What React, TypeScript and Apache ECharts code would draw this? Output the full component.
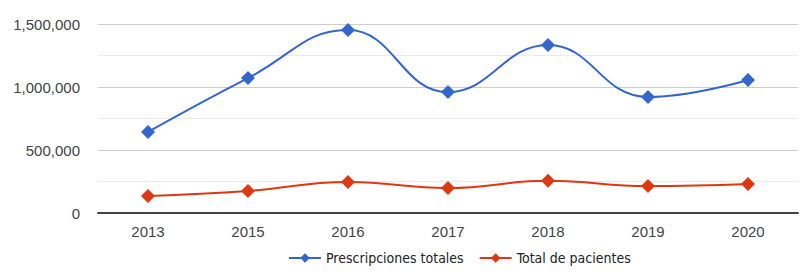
import React, { useEffect, useRef } from "react";
import * as echarts from "echarts";

const years = ["2013", "2015", "2016", "2017", "2018", "2019", "2020"];
const prescripciones = [643000, 1071000, 1452000, 960000, 1333000, 921000, 1056000];
const pacientes = [135000, 175000, 246000, 198000, 255000, 214000, 230000];
const seriesNames = ["Prescripciones totales", "Total de pacientes"];

export default function App() {
  const ref = useRef<HTMLDivElement>(null);
  useEffect(() => {
    if (!ref.current) return;
    const chart = echarts.init(ref.current, null, { renderer: "svg" });
    chart.setOption({
      animation: false,
      backgroundColor: "#ffffff",
      grid: { left: 98, right: 9, top: 24, bottom: 63 },
      legend: {
        top: 246,
        left: 283,
        itemWidth: 32,
        itemHeight: 12,
        itemGap: 15,
        textStyle: {
          fontFamily: "'DejaVu Sans Condensed', 'Liberation Sans Narrow', sans-serif",
          fontSize: 14,
          color: "#222",
        },
        data: seriesNames,
      },
      xAxis: {
        type: "category",
        data: years,
        boundaryGap: true,
        axisTick: { show: false },
        axisLine: { lineStyle: { color: "#444", width: 2 } },
        axisLabel: {
          color: "#444",
          fontSize: 15,
          fontFamily: "Arial, 'Liberation Sans', sans-serif",
          margin: 11,
        },
      },
      yAxis: {
        type: "value",
        min: 0,
        max: 1500000,
        interval: 250000,
        axisLine: { show: false },
        axisTick: { show: false },
        axisLabel: {
          color: "#444",
          fontSize: 15,
          fontFamily: "Arial, 'Liberation Sans', sans-serif",
          margin: 18,
          formatter: (v: number) =>
            v % 500000 === 0 ? v.toLocaleString("en-US") : "",
        },
        splitLine: { lineStyle: { color: ["#cccccc", "#ebebeb"], width: 1 } },
      },
      series: [
        {
          name: seriesNames[0],
          type: "line",
          data: prescripciones,
          smooth: 0.45,
          symbol: "diamond",
          symbolSize: 14,
          itemStyle: { color: "#3366cc" },
          lineStyle: { color: "#3366cc", width: 2 },
        },
        {
          name: seriesNames[1],
          type: "line",
          data: pacientes,
          smooth: 0.45,
          symbol: "diamond",
          symbolSize: 14,
          itemStyle: { color: "#dc3912" },
          lineStyle: { color: "#dc3912", width: 2 },
        },
      ],
    });
    return () => chart.dispose();
  }, []);
  return <div ref={ref} style={{ width: 807, height: 276, position: "absolute", left: 0, top: 0 }} />;
}
